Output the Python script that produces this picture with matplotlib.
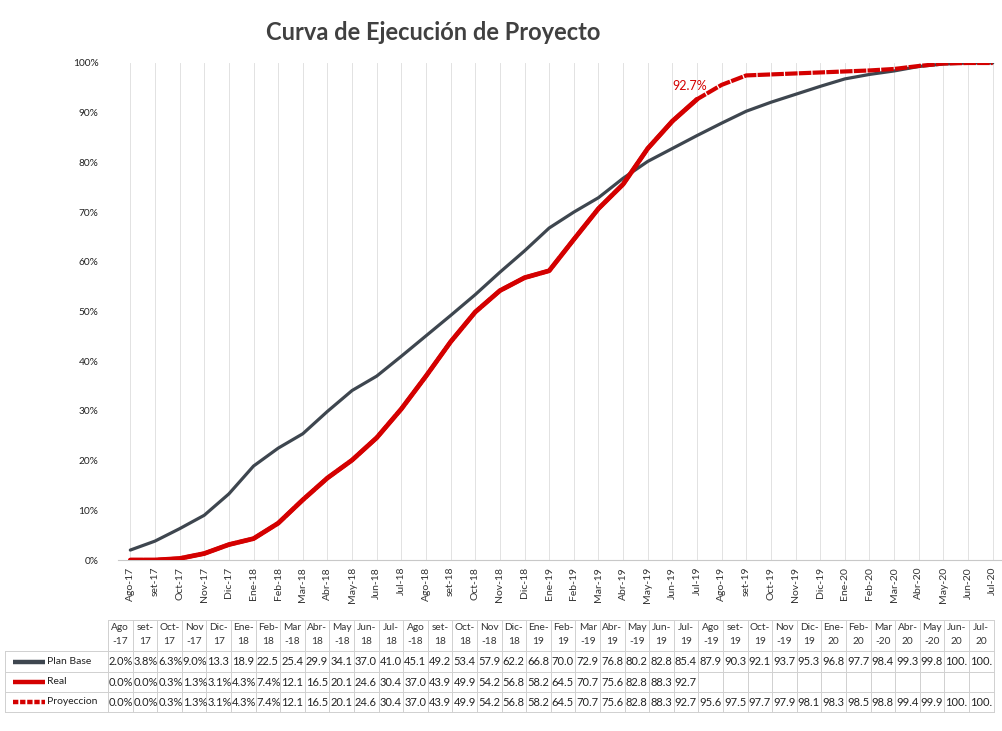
import numpy as np
import matplotlib
matplotlib.use("Agg")
from matplotlib import pyplot as plt

plt.rcParams['font.family'] = ['Lato', 'DejaVu Sans']

# months on the x axis
meses = ["Ago-17", "set-17", "Oct-17", "Nov-17", "Dic-17", "Ene-18", "Feb-18", "Mar-18",
         "Abr-18", "May-18", "Jun-18", "Jul-18", "Ago-18", "set-18", "Oct-18", "Nov-18",
         "Dic-18", "Ene-19", "Feb-19", "Mar-19", "Abr-19", "May-19", "Jun-19", "Jul-19",
         "Ago-19", "set-19", "Oct-19", "Nov-19", "Dic-19", "Ene-20", "Feb-20", "Mar-20",
         "Abr-20", "May-20", "Jun-20", "Jul-20"]

plan_base = [2.0, 3.8, 6.3, 9.0, 13.3, 18.9, 22.5, 25.4, 29.9, 34.1, 37.0, 41.0,
             45.1, 49.2, 53.4, 57.9, 62.2, 66.8, 70.0, 72.9, 76.8, 80.2, 82.8, 85.4,
             87.9, 90.3, 92.1, 93.7, 95.3, 96.8, 97.7, 98.4, 99.3, 99.8, 100.0, 100.0]

real = [0.0, 0.0, 0.3, 1.3, 3.1, 4.3, 7.4, 12.1, 16.5, 20.1, 24.6, 30.4,
        37.0, 43.9, 49.9, 54.2, 56.8, 58.2, 64.5, 70.7, 75.6, 82.8, 88.3, 92.7]

proyeccion = real + [95.6, 97.5, 97.7, 97.9, 98.1, 98.3, 98.5, 98.8, 99.4, 99.9, 100.0, 100.0]

C_PLAN = "#3e464f"
C_RED = "#d40000"

W, H = 1002, 731
fig = plt.figure(figsize=(W / 100, H / 100), dpi=100)

# main chart
ax = fig.add_axes([118 / W, 1 - 560 / H, 887 / W, 497 / H])
x = np.arange(len(meses))
ax.plot(x, np.array(plan_base) / 100, color=C_PLAN, lw=2.3, solid_capstyle='round', zorder=3)
ax.plot(np.arange(len(proyeccion)), np.array(proyeccion) / 100, color=C_RED, lw=3.0,
        linestyle=(0, (3.0, 0.3)), zorder=4)
ax.plot(np.arange(len(real)), np.array(real) / 100, color=C_RED, lw=3.4,
        solid_capstyle='round', zorder=5)
ax.annotate(f"{real[-1]:.1f}%", (len(real) - 1, real[-1] / 100), xytext=(-5, 5),
            textcoords='offset points', color=C_RED, fontsize=9, ha='center', va='bottom',
            zorder=6)

ax.set_xlim(-0.5, len(meses) - 0.5)
ax.set_ylim(0, 1.0)
ax.set_xticks(x)
ax.set_xticklabels(meses, rotation=90, fontsize=7.5, color="#333333")
ax.set_yticks(np.arange(0, 1.01, 0.1))
ax.set_yticklabels([f"{int(v)}%" for v in np.arange(0, 101, 10)], fontsize=7.3, color="#222222")
ax.tick_params(length=0, pad=5)
ax.tick_params(axis='y', pad=14)
for s in ["top", "right", "left"]:
    ax.spines[s].set_visible(False)
ax.spines["bottom"].set_color("#c8c8c8")
for xi in x:
    ax.axvline(xi, color="#e2e2e2", lw=0.7, zorder=1)

fig.text(433 / W, 1 - 32 / H, "Curva de Ejecución de Proyecto", ha='center', va='center',
         fontsize=17, color="#404040", fontweight='bold')

# data table under the chart (pixel coordinates)
tb = fig.add_axes([0, 0, 1, 1])
tb.set_xlim(0, W)
tb.set_ylim(H, 0)
tb.axis('off')

x0, cw = 108.0, 24.6
rows_y = [620, 651, 672, 692, 712]
grid_c = "#d0d0d0"
for i in range(len(meses) + 1):
    tb.plot([x0 + i * cw] * 2, [rows_y[0], rows_y[-1]], color=grid_c, lw=0.7)
tb.plot([x0, x0 + len(meses) * cw], [rows_y[0]] * 2, color=grid_c, lw=0.7)
for yy in rows_y[1:]:
    tb.plot([5, x0 + len(meses) * cw], [yy] * 2, color=grid_c, lw=0.7)
tb.plot([5, 5], [rows_y[1], rows_y[-1]], color=grid_c, lw=0.7)

for i, m in enumerate(meses):
    a, b = m.split("-")
    # header split like Excel wraps it
    top = a + "-" if a not in ("Ago", "Nov", "Mar", "May") else a
    bot = b if top.endswith("-") else "-" + b
    tb.text(x0 + (i + 0.5) * cw, 628, top, ha='center', va='center', fontsize=7.3, color="#333333")
    tb.text(x0 + (i + 0.5) * cw, 642, bot, ha='center', va='center', fontsize=7.3, color="#333333")


def cell(v):
    return (f"{v:.1f}%")[:4]


series = [("Plan Base", plan_base, C_PLAN, '-'),
          ("Real", real, C_RED, '-'),
          ("Proyeccion", proyeccion, C_RED, (0, (1.2, 0.4)))]
for r, (name, vals, col, ls) in enumerate(series):
    yc = (rows_y[r + 1] + rows_y[r + 2]) / 2
    tb.plot([13, 45], [yc, yc], color=col, lw=3.2, linestyle=ls, solid_capstyle='butt')
    tb.text(47, yc, name, ha='left', va='center', fontsize=7.5, color="#222222")
    for i, v in enumerate(vals):
        tb.text(x0 + i * cw + 1, yc, cell(v), ha='left', va='center', fontsize=8,
                color="#222222")

fig.savefig("out.png", dpi=100)
